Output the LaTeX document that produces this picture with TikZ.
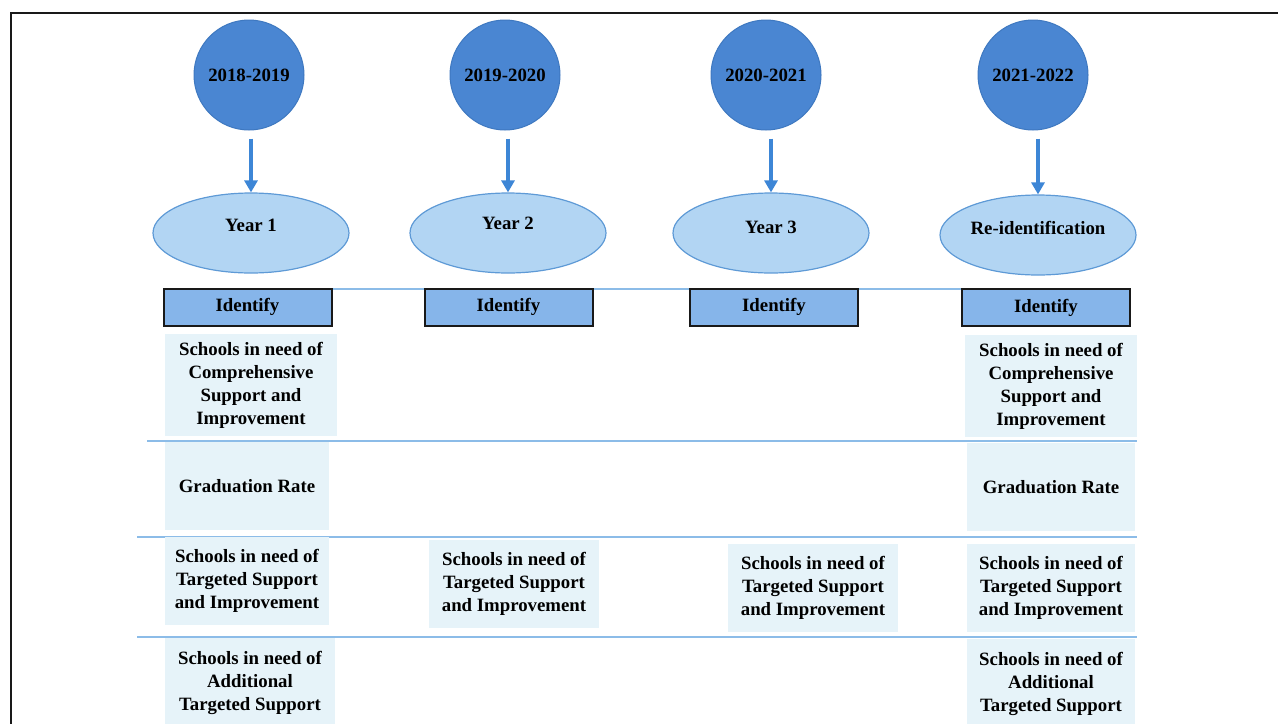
\documentclass[tikz,border=0pt]{standalone}
\usepackage{fontspec}
\setmainfont{Liberation Serif}
\usetikzlibrary{shapes.geometric,arrows.meta}
\definecolor{circfill}{HTML}{4A86D2}
\definecolor{circdraw}{HTML}{3E78C0}
\definecolor{ellfill}{HTML}{B2D5F3}
\definecolor{elldraw}{HTML}{5E9AD6}
\definecolor{idfill}{HTML}{86B5EA}
\definecolor{cellfill}{HTML}{E6F3F9}
\definecolor{rulecol}{HTML}{8CBCE8}
\definecolor{arrcol}{HTML}{3D86D6}
\begin{document}
\begin{tikzpicture}[x=0.5pt,y=-0.5pt,
  font=\fontsize{9.4}{11.5}\selectfont\bfseries,
  year/.style={circle, fill=circfill, draw=circdraw, line width=0.5pt, minimum size=55pt, inner sep=0pt},
  phase/.style={ellipse, fill=ellfill, draw=elldraw, line width=0.6pt, minimum width=98pt, minimum height=40pt, inner sep=0pt},
  idbox/.style={rectangle, fill=idfill, draw=black!90, line width=1pt, minimum width=84pt, minimum height=18.5pt, inner sep=0pt},
  cell/.style={rectangle, fill=cellfill, inner sep=0pt, align=center},
  arr/.style={-{Triangle[length=6pt,width=6.5pt]}, draw=arrcol, line width=1.6pt},
  rule/.style={draw=rulecol, line width=0.6pt}]
\useasboundingbox (0,0) rectangle (1278,723);
% frame
\draw[line width=1.2pt, black!90] (11,740) -- (11,13) -- (1290,13);
% rules
\draw[rule] (164,289) -- (1130,289);
\draw[rule] (147,441) -- (1137,441);
\draw[rule] (137,537) -- (1137,537);
\draw[rule] (137,637) -- (1137,637);
% year circles
\node[year] (c1) at (249,75) {2018-2019};
\node[year] (c2) at (505,75) {2019-2020};
\node[year] (c3) at (766,75) {2020-2021};
\node[year] (c4) at (1033,75) {2021-2022};
% phase ellipses
\node[phase] (e1) at (251,233) {};
\node[phase] (e2) at (508,233) {};
\node[phase] (e3) at (771,233) {};
\node[phase] (e4) at (1038,235) {};
\node (t1) at ([yshift=4pt]e1.center) {Year 1};
\node (t2) at ([yshift=5pt]e2.center) {Year 2};
\node (t3) at ([yshift=3pt]e3.center) {Year 3};
\node (t4) at ([yshift=3.5pt]e4.center) {Re-identification};
% arrows
\foreach \i in {1,2,3,4}{
  \draw[arr] ([yshift=-4pt]c\i.south -| e\i.north) -- (e\i.north);
}
% identify boxes
\node[idbox] (b1) at (247.5,307) {Identify};
\node[idbox] (b2) at (508.5,307) {Identify};
\node[idbox] (b3) at (774,307) {Identify};
\node[idbox] (b4) at (1046,307.5) {Identify};
% cells
\node[cell, minimum width=86pt, minimum height=51pt] (c11) at (251,385) {Schools in need of\\Comprehensive\\Support and\\Improvement};
\node[cell, minimum width=82pt, minimum height=44pt] (c12) at (247,486) {Graduation Rate};
\node[cell, minimum width=82pt, minimum height=44pt] (c13) at (247,581) {Schools in need of\\Targeted Support\\and Improvement};
\node[cell, minimum width=85pt, minimum height=45pt] (c14) at (250,683) {Schools in need of\\Additional\\Targeted Support};
\node[cell, minimum width=85pt, minimum height=44pt] (c23) at (514,584) {Schools in need of\\Targeted Support\\and Improvement};
\node[cell, minimum width=85pt, minimum height=44pt] (c33) at (813,588) {Schools in need of\\Targeted Support\\and Improvement};
\node[cell, minimum width=86pt, minimum height=51pt] (c41) at (1051,386) {Schools in need of\\Comprehensive\\Support and\\Improvement};
\node[cell, minimum width=84pt, minimum height=44pt] (c42) at (1051,487) {Graduation Rate};
\node[cell, minimum width=84pt, minimum height=44pt] (c43) at (1051,588) {Schools in need of\\Targeted Support\\and Improvement};
\node[cell, minimum width=84pt, minimum height=45pt] (c44) at (1051,684) {Schools in need of\\Additional\\Targeted Support};
\end{tikzpicture}
\end{document}
